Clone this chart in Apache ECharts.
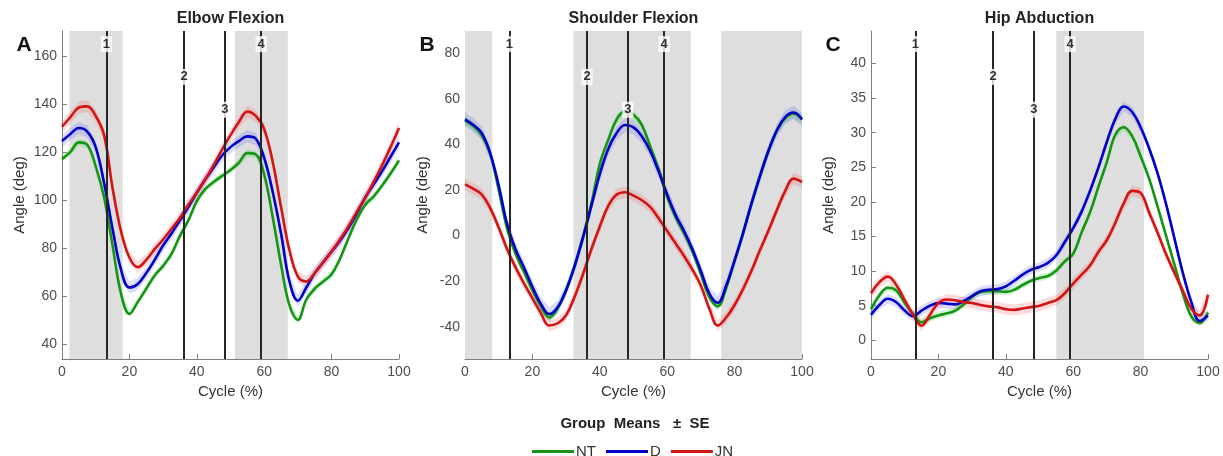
<!DOCTYPE html>
<html>
<head>
<meta charset="utf-8">
<script src="https://cdn.jsdelivr.net/npm/echarts@6/dist/echarts.min.js"></script>
<style>
  html, body { margin: 0; padding: 0; background: #fff; }
  #chart { width: 1223px; height: 456px; }
</style>
</head>
<body>
<div id="chart"></div>
<script>
// gait cycle samples (%)
const CYCLE = [0, 2.5, 5, 7.5, 10, 12.5, 15, 17.5, 20, 22.5, 25, 27.5, 30, 32.5, 35, 37.5, 40, 42.5, 45, 47.5,
  50, 52.5, 55, 57.5, 60, 62.5, 65, 67.5, 70, 72.5, 75, 77.5, 80, 82.5, 85, 87.5, 90, 92.5, 95, 97.5, 100]

const GROUPS = ['NT', 'D', 'JN']
const EVENTS = [13.2, 36.2, 48.3, 59.1]
const EVENT_LABELS = ['1', '2', '3', '4']
const X_TICKS = [0, 20, 40, 60, 80, 100]

// A - elbow flexion
const ELBOW_NT = [117, 120, 124, 123, 114, 101, 81, 61, 52.5, 57.5, 63, 68.5, 72.5, 77.5, 85, 91.5, 99.5, 104.5, 107.5, 110,
  112.5, 115.5, 119.5, 119, 110.5, 93, 73, 56, 50, 58.5, 63, 66, 69, 75.5, 84, 92, 98, 101.5, 106, 111, 116.5]
const ELBOW_D = [124.5, 127.5, 130, 128.5, 122, 107, 88, 71, 63.5, 65, 69.5, 75, 81, 86, 91.5, 97, 103, 108.5, 113.5, 118.5,
  122, 124.5, 126.5, 125.5, 117.5, 103.5, 86, 66, 58, 63.5, 69.5, 74, 78.5, 83, 88.3, 94.5, 101, 106.5, 112, 118, 124]
const ELBOW_JN = [130.5, 134.5, 138.5, 139, 135, 127, 105, 87, 76, 72, 75, 79.5, 83.5, 88, 92.5, 98, 103, 108.5, 114.5, 121,
  127, 132.5, 136.8, 135, 129.5, 116, 97, 79, 68, 66, 69.5, 74, 78.5, 83.5, 89, 95, 101, 107.5, 114.5, 122, 130]
const ELBOW_SE = [1.5, 2.5, 2.5]
const ELBOW_SHADE = [[2.2, 18], [51.3, 67]]
const ELBOW_TICKS = [40, 60, 80, 100, 120, 140, 160]

// B - shoulder flexion
const SHOULDER_NT = [50.5, 48, 44, 36, 20, 3, -8, -16, -24, -31, -36, -32, -24, -13.5, -0.5, 14, 31.5, 42, 51, 54.5,
  53, 48.5, 39, 29, 17, 8, 1, -7, -17, -27, -31, -23, -11, 1, 14, 26, 37, 46, 51.5, 53.5, 51]
const SHOULDER_D = [51, 48.5, 45, 36, 22, 5, -6, -14, -22.5, -30, -34.5, -31.5, -24, -13.5, -1, 13, 27, 38, 45, 48.5,
  47.5, 43.5, 37, 28, 18, 9, 2, -6, -15.5, -25.5, -29.5, -22, -11, 1, 14, 26, 37, 46, 52, 54, 51]
const SHOULDER_JN = [22.5, 20.5, 18, 12, 3.5, -6, -14, -21, -27.5, -34, -39.5, -38.5, -35, -27, -17, -6, 4, 13, 18, 19,
  17.5, 15.5, 12.5, 7.5, 2, -3.5, -9, -15, -22, -32, -39.5, -36, -30.5, -23.5, -15.5, -6.5, 2, 11, 19.5, 25, 23.5]
const SHOULDER_SE = [2, 3, 2.5]
const SHOULDER_SHADE = [[0, 8.1], [32.2, 67], [76, 100]]
const SHOULDER_TICKS = [-40, -20, 0, 20, 40, 60, 80]

// C - hip abduction
const HIP_NT = [4.5, 6.5, 7.6, 7.2, 5.4, 3.8, 2.6, 3.2, 3.6, 3.9, 4.3, 5.2, 6.3, 7, 7.1, 7.1, 7, 7.3, 8, 8.6,
  9, 9.3, 10.1, 11.4, 12.5, 15.6, 18.5, 22.2, 25.8, 29.7, 30.8, 29.5, 26.6, 23.4, 19.4, 15.2, 11, 6.8, 3.5, 2.5, 4]
const HIP_D = [3.7, 5.1, 6, 5.5, 4.3, 3.5, 4.3, 5, 5.4, 5.3, 5.2, 5.7, 6.4, 7.1, 7.3, 7.4, 7.8, 8.6, 9.5, 10.2,
  10.6, 11.2, 12.3, 14.2, 16.2, 18.6, 21.6, 25, 28.7, 32, 33.8, 33, 30.8, 27.8, 24.2, 19.8, 14.8, 9.8, 5.6, 2.8, 3.6]
const HIP_JN = [6.8, 8.4, 9.2, 8, 5.8, 3.7, 2.1, 3.7, 5.4, 5.9, 5.8, 5.5, 5.4, 5.1, 4.9, 4.8, 4.5, 4.4, 4.6, 4.8,
  5, 5.4, 5.8, 6.8, 8.2, 9.5, 10.8, 12.8, 14.5, 17, 19.8, 21.6, 21.3, 18.5, 15.6, 12.5, 9.8, 7.2, 4.6, 3.6, 6.6]
const HIP_SE = [0.5, 0.7, 0.8]
const HIP_SHADE = [[55, 81]]
const HIP_TICKS = [0, 5, 10, 15, 20, 25, 30, 35, 40]

// styles
const FONT = '"Liberation Sans", Arial, sans-serif'
const COLORS = ['#149614', '#0000c8', '#d21414']
const BAND_COLORS = ['rgba(40,210,40,0.22)', 'rgba(80,80,255,0.2)', 'rgba(255,80,80,0.2)']
const AXIS_COLOR = '#7f7f7f'
const LABEL_LEVEL = [0.96, 0.86, 0.76, 0.96]

const panels = [
  { title: 'Elbow Flexion', letter: 'A', left: 62, min: 33.7, max: 170.4, ticks: ELBOW_TICKS,
    means: [ELBOW_NT, ELBOW_D, ELBOW_JN], se: ELBOW_SE, shade: ELBOW_SHADE },
  { title: 'Shoulder Flexion', letter: 'B', left: 465, min: -54.2, max: 89.8, ticks: SHOULDER_TICKS,
    means: [SHOULDER_NT, SHOULDER_D, SHOULDER_JN], se: SHOULDER_SE, shade: SHOULDER_SHADE },
  { title: 'Hip Abduction', letter: 'C', left: 871, min: -2.7, max: 44.7, ticks: HIP_TICKS,
    means: [HIP_NT, HIP_D, HIP_JN], se: HIP_SE, shade: HIP_SHADE }
]

const GRID_TOP = 31
const GRID_W = 337
const GRID_H = 328

const grid = []
const xAxis = []
const yAxis = []
const series = []
const graphic = []

panels.forEach((p, k) => {
  grid.push({ left: p.left, top: GRID_TOP, width: GRID_W, height: GRID_H })

  xAxis.push({
    type: 'value', gridIndex: k, min: 0, max: 100, interval: 20,
    name: 'Cycle (%)', nameLocation: 'middle', nameGap: 25,
    nameTextStyle: { fontSize: 15, color: '#333', fontFamily: FONT },
    axisLine: { show: true, onZero: false, lineStyle: { color: AXIS_COLOR } },
    axisTick: { show: true, inside: true, length: 5, customValues: X_TICKS, lineStyle: { color: AXIS_COLOR } },
    axisLabel: { fontSize: 14, color: '#4d4d4d', fontFamily: FONT, margin: 6, customValues: X_TICKS },
    splitLine: { show: false }
  })

  yAxis.push({
    type: 'value', gridIndex: k, min: p.min, max: p.max,
    name: 'Angle (deg)', nameLocation: 'middle', nameGap: 35,
    nameTextStyle: { fontSize: 15, color: '#333', fontFamily: FONT },
    axisLine: { show: true, onZero: false, lineStyle: { color: AXIS_COLOR } },
    axisTick: { show: true, inside: true, length: 5, customValues: p.ticks, lineStyle: { color: AXIS_COLOR } },
    axisLabel: { fontSize: 14, color: '#4d4d4d', fontFamily: FONT, margin: 5, customValues: p.ticks },
    splitLine: { show: false }
  })

  // gray phases
  series.push({
    type: 'line', xAxisIndex: k, yAxisIndex: k, data: [], silent: true,
    markArea: {
      silent: true,
      itemStyle: { color: '#dedede' },
      data: p.shade.map(([a, b]) => [{ xAxis: a }, { xAxis: b }])
    }
  })

  // event lines
  series.push({
    type: 'line', xAxisIndex: k, yAxisIndex: k, data: [], silent: true,
    markLine: {
      silent: true, symbol: 'none', animation: false,
      label: { show: false },
      lineStyle: { color: '#262626', width: 2, type: 'solid' },
      data: EVENTS.map(e => ({ xAxis: e }))
    }
  })

  // SE bands
  GROUPS.forEach((g, i) => {
    const mean = p.means[i]
    const se = p.se[i]
    series.push({
      type: 'custom', xAxisIndex: k, yAxisIndex: k, silent: true, z: 2,
      data: CYCLE.map((c, j) => [c, mean[j] - se, mean[j] + se]),
      encode: { x: 0, y: [1, 2] },
      renderItem: (params, api) => {
        if (params.dataIndex !== 0) return null
        const lo = CYCLE.map((c, j) => api.coord([c, mean[j] - se]))
        const hi = CYCLE.map((c, j) => api.coord([c, mean[j] + se])).reverse()
        return {
          type: 'polygon',
          shape: { points: lo.concat(hi) },
          style: { fill: BAND_COLORS[i] }
        }
      }
    })
  })

  GROUPS.forEach((g, i) => {
    series.push({
      name: g, type: 'line', xAxisIndex: k, yAxisIndex: k,
      smooth: 0.4, symbol: 'none', z: 3,
      color: COLORS[i],
      lineStyle: { width: 2.6, color: COLORS[i] },
      data: CYCLE.map((c, j) => [c, p.means[i][j]])
    })
  })

  // event number tags
  series.push({
    type: 'scatter', xAxisIndex: k, yAxisIndex: k, z: 10, silent: true,
    symbolSize: 1, itemStyle: { color: 'rgba(0,0,0,0)' },
    label: {
      show: true, position: 'inside',
      formatter: d => EVENT_LABELS[d.dataIndex],
      backgroundColor: '#fff', padding: [2, 2, 1, 2],
      fontSize: 13, fontWeight: 'bold', color: '#000', fontFamily: FONT
    },
    data: EVENTS.map((e, j) => [e, p.min + LABEL_LEVEL[j] * (p.max - p.min)])
  })

  graphic.push({
    type: 'text', x: p.left + GRID_W / 2, y: 19,
    style: { text: p.title, font: 'bold 16px ' + FONT, fill: '#222', align: 'center', verticalAlign: 'middle' }
  })
  graphic.push({
    type: 'text', x: p.left - 38, y: 45,
    style: { text: p.letter, font: 'bold 21px ' + FONT, fill: '#111', align: 'center', verticalAlign: 'middle' }
  })
})

graphic.push({
  type: 'text', x: 635, y: 424,
  style: { text: 'Group  Means   \u00b1  SE', font: 'bold 15px ' + FONT, fill: '#222', align: 'center', verticalAlign: 'middle' }
})

const chart = echarts.init(document.getElementById('chart'))
chart.setOption({
  animation: false,
  backgroundColor: '#fff',
  grid,
  xAxis,
  yAxis,
  series,
  graphic,
  legend: {
    data: GROUPS,
    left: 527,
    top: 439,
    icon: 'rect',
    itemWidth: 42,
    itemHeight: 3,
    itemGap: 10,
    selectedMode: false,
    textStyle: { fontSize: 15, color: '#333', fontFamily: FONT, padding: [0, 0, 0, -3] }
  }
})
</script>
</body>
</html>
